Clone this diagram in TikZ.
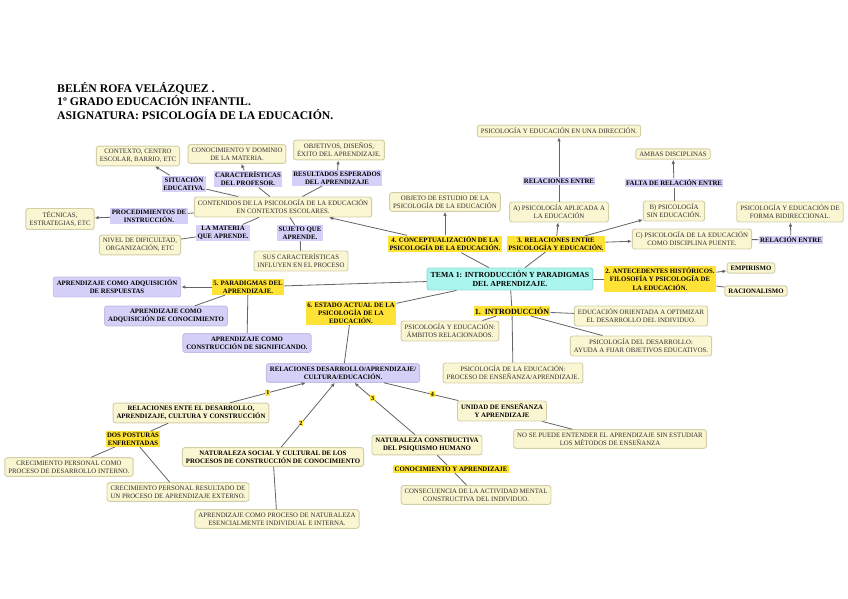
\documentclass[tikz,border=0pt]{standalone}
\usepackage{fontspec}
\setmainfont{Liberation Serif}
\usepackage{xcolor}
\usepackage{tikz}
\usetikzlibrary{arrows.meta}
\definecolor{mapcream}{HTML}{FAF6D2}
\definecolor{mapedge}{HTML}{D2CEA8}
\definecolor{mapyellow}{HTML}{FFE236}
\definecolor{maplila}{HTML}{D4D0F7}
\definecolor{maplilaedge}{HTML}{C2BEE4}
\definecolor{mapcyan}{HTML}{AAF6EF}
\definecolor{mapcyanedge}{HTML}{8EDCD6}
\definecolor{mapline}{HTML}{666666}
\definecolor{maptext}{HTML}{2E2E2E}

\begin{document}
\begin{tikzpicture}[x=0.03cm,y=-0.03cm,
  font=\fontsize{5.8}{7}\selectfont,
  box/.style={rectangle,rounded corners=2pt,draw=mapedge,line width=0.8pt,fill=mapcream,align=center,text=maptext,inner xsep=3pt,inner ysep=2.5pt},
  bbox/.style={box,font=\fontsize{5.8}{7}\selectfont\bfseries,text=black},
  lbox/.style={bbox,fill=maplila,draw=maplilaedge},
  tag/.style={rectangle,fill=mapyellow,align=center,font=\fontsize{5.8}{7}\selectfont\bfseries,inner sep=1.2pt},
  ltag/.style={tag,fill=maplila},
  num/.style={tag,font=\fontsize{5.2}{6}\selectfont\bfseries,inner sep=0.8pt},
  link/.style={draw=mapline,line width=0.7pt},
  arr/.style={link,-{Latex[length=3.5pt,width=3pt]}},
]
\useasboundingbox (0,0) rectangle (848,599);

\node[anchor=west,align=left,inner sep=0pt,font=\fontsize{10}{11.2}\selectfont\bfseries] (title) at (57,101) {BELÉN ROFA VELÁZQUEZ .\\1º GRADO EDUCACIÓN INFANTIL.\\ASIGNATURA: PSICOLOGÍA DE LA EDUCACIÓN.};

\node[box] (cont) at (283,207) {CONTENIDOS DE LA PSICOLOGÍA DE LA EDUCACIÓN\\EN CONTEXTOS ESCOLARES.};
\node[box] (contexto) at (138,156) {CONTEXTO, CENTRO\\ESCOLAR, BARRIO, ETC};
\node[box] (dominio) at (237,154) {CONOCIMIENTO Y DOMINIO\\DE LA MATERIA.};
\node[box] (objetivos) at (339,150) {OBJETIVOS, DISEÑOS,\\ÉXITO DEL APRENDIZAJE.};
\node[box] (tecnicas) at (60,219) {TÉCNICAS,\\ESTRATEGIAS, ETC};
\node[box] (nivel) at (140,245) {NIVEL DE DIFICULTAD,\\ORGANIZACIÓN, ETC};
\node[box] (suscar) at (301,261) {SUS CARACTERÍSTICAS\\INFLUYEN EN EL PROCESO};
\node[ltag] (situacion) at (184,184) {SITUACIÓN\\EDUCATIVA.};
\node[ltag] (profesor) at (248,179) {CARACTERÍSTICAS\\DEL PROFESOR.};
\node[ltag] (resultados) at (337,178) {RESULTADOS ESPERADOS\\DEL APRENDIZAJE};
\node[ltag] (procedim) at (149,216) {PROCEDIMIENTOS DE\\INSTRUCCIÓN.};
\node[ltag] (materia) at (223,233) {LA MATERIA\\QUE APRENDE.};
\node[ltag] (sujeto) at (300,233) {SUJETO QUE\\APRENDE.};

\node[box] (objeto) at (445,202) {OBJETO DE ESTUDIO DE LA\\PSICOLOGÍA DE LA EDUCACIÓN};
\node[box] (unadir) at (559,131) {PSICOLOGÍA Y EDUCACIÓN EN UNA DIRECCIÓN.};
\node[box] (aplicada) at (559,212) {A) PSICOLOGÍA APLICADA A\\LA EDUCACIÓN};
\node[ltag] (relent) at (559,181) {RELACIONES ENTRE};
\node[box] (ambas) at (673,154) {AMBAS DISCIPLINAS};
\node[ltag] (falta) at (674,183) {FALTA DE RELACIÓN ENTRE};
\node[box] (sineduc) at (674,211) {B) PSICOLOGÍA\\SIN EDUCACIÓN.};
\node[box] (puente) at (692,239) {C) PSICOLOGÍA DE LA EDUCACIÓN\\COMO DISCIPLINA PUENTE.};
\node[ltag] (relacion) at (791,240) {RELACIÓN ENTRE};
\node[box] (bidir) at (790,212) {PSICOLOGÍA Y EDUCACIÓN DE\\FORMA BIDIRECCIONAL.};
\node[bbox] (empirismo) at (751,268) {EMPIRISMO};
\node[bbox] (racional) at (756,291) {RACIONALISMO};

\node[bbox,fill=mapcyan,draw=mapcyanedge,font=\fontsize{6.6}{8}\selectfont\bfseries] (tema) at (510,279) {TEMA 1: INTRODUCCIÓN Y PARADIGMAS\\DEL APRENDIZAJE.};
\node[tag] (conc) at (445,244) {4. CONCEPTUALIZACIÓN DE LA\\PSICOLOGÍA DE LA EDUCACIÓN.};
\node[tag] (relac) at (556,244) {3. RELACIONES ENTRE\\PSICOLOGÍA Y EDUCACIÓN.};
\node[tag] (antec) at (660,279) {2. ANTECEDENTES HISTÓRICOS.\\FILOSOFÍA Y PSICOLOGÍA DE\\LA EDUCACIÓN.};
\node[tag,font=\fontsize{6.8}{8}\selectfont\bfseries] (intro) at (512,311) {1.\ \ INTRODUCCIÓN};
\node[tag] (parad) at (248,287) {5. PARADIGMAS DEL\\APRENDIZAJE.};
\node[tag] (estado) at (351,313) {6. ESTADO ACTUAL DE LA\\PSICOLOGÍA DE LA\\EDUCACIÓN.};

\node[lbox] (respuestas) at (117,287) {APRENDIZAJE COMO ADQUISICIÓN\\DE RESPUESTAS};
\node[lbox] (conocim) at (166,316) {APRENDIZAJE COMO\\ADQUISICIÓN DE CONOCIMIENTO};
\node[lbox] (signif) at (247,343) {APRENDIZAJE COMO\\CONSTRUCCIÓN DE SIGNIFICANDO.};

\node[box] (ambitos) at (450,331) {PSICOLOGÍA Y EDUCACIÓN:\\ÁMBITOS RELACIONADOS.};
\node[box] (optimizar) at (641,316) {EDUCACIÓN ORIENTADA A OPTIMIZAR\\EL DESARROLLO DEL INDIVIDUO.};
\node[box] (fijar) at (641,346) {PSICOLOGÍA DEL DESARROLLO:\\AYUDA A FIJAR OBJETIVOS EDUCATIVOS.};
\node[box] (proceso) at (513,373) {PSICOLOGÍA DE LA EDUCACIÓN:\\PROCESO DE ENSEÑANZA/APRENDIZAJE.};

\node[lbox] (relcult) at (343,373) {RELACIONES DESARROLLO/APRENDIZAJE/\\CULTURA/EDUCACIÓN.};
\node[bbox] (entre) at (191,413) {RELACIONES ENTE EL DESARROLLO,\\APRENDIZAJE, CULTURA Y CONSTRUCCIÓN};
\node[tag] (posturas) at (133,439) {DOS POSTURAS\\ENFRENTADAS};
\node[box] (interno) at (69,467) {CRECIMIENTO PERSONAL COMO\\PROCESO DE DESARROLLO INTERNO.};
\node[box] (externo) at (178,492) {CRECIMIENTO PERSONAL RESULTADO DE\\UN PROCESO DE APRENDIZAJE EXTERNO.};
\node[bbox] (social) at (273,457) {NATURALEZA SOCIAL Y CULTURAL DE LOS\\PROCESOS DE CONSTRUCCIÓN DE CONOCIMIENTO};
\node[box] (individual) at (277,519) {APRENDIZAJE COMO PROCESO DE NATURALEZA\\ESENCIALMENTE INDIVIDUAL E INTERNA.};
\node[bbox] (psiquismo) at (427,445) {NATURALEZA CONSTRUCTIVA\\DEL PSIQUISMO HUMANO};
\node[tag] (conapr) at (451,469) {CONOCIMIENTO Y APRENDIZAJE};
\node[box] (consec) at (476,495) {CONSECUENCIA DE LA ACTIVIDAD MENTAL\\CONSTRUCTIVA DEL INDIVIDUO.};
\node[bbox] (unidad) at (502,411) {UNIDAD DE ENSEÑANZA\\Y APRENDIZAJE};
\node[box] (metodos) at (610,439) {NO SE PUEDE ENTENDER EL APRENDIZAJE SIN ESTUDIAR\\LOS MÉTODOS DE ENSEÑANZA};

\draw[link] (tema) -- (conc);
\draw[link] (tema) -- (relac);
\draw[link] (tema) -- (antec);
\draw[link] (tema) -- (intro);
\draw[link] (tema) -- (parad);
\draw[link] (tema) -- (estado);

\draw[arr] (conc) -- (objeto);
\draw[arr] (conc) -- (cont);
\draw[link] (cont) -- (situacion);
\draw[arr] (situacion) -- (contexto);
\draw[link] (cont) -- (profesor);
\draw[arr] (profesor) -- (dominio);
\draw[link] (cont) -- (resultados);
\draw[arr] (resultados) -- (objetivos);
\draw[link] (cont) -- (procedim);
\draw[arr] (procedim) -- (tecnicas);
\draw[link] (cont) -- (materia);
\draw[link] (materia) -- (nivel);
\draw[link] (cont) -- (sujeto);
\draw[link] (sujeto) -- (suscar);

\draw[arr] (relac) -- (aplicada);
\draw[link] (aplicada) -- (relent);
\draw[arr] (relent) -- (unadir);
\draw[arr] (relac) -- (sineduc);
\draw[link] (sineduc) -- (falta);
\draw[arr] (falta) -- (ambas);
\draw[arr] (relac) -- (puente);
\draw[link] (puente) -- (relacion);
\draw[arr] (relacion) -- (bidir);

\draw[arr] (antec) -- (empirismo);
\draw[link] (antec) -- (racional);

\draw[link] (intro) -- (ambitos);
\draw[link] (intro) -- (optimizar);
\draw[link] (intro) -- (fijar);
\draw[link] (intro) -- (proceso);

\draw[arr] (parad) -- (respuestas);
\draw[link] (parad) -- (conocim);
\draw[link] (parad) -- (signif);

\draw[link] (estado) -- (relcult);
\draw[arr] (entre) -- node[num,pos=0.5] {1} (relcult);
\draw[arr] (social) -- node[num,pos=0.37] {2} (relcult);
\draw[arr] (psiquismo) -- node[num,pos=0.7] {3} (relcult);
\draw[link] (unidad) -- node[num,pos=0.35] {4} (relcult);
\draw[link] (entre) -- (posturas);
\draw[link] (posturas) -- (interno);
\draw[link] (posturas) -- (externo);
\draw[link] (social) -- (individual);
\draw[link] (psiquismo) -- (conapr);
\draw[link] (conapr) -- (consec);
\draw[link] (unidad) -- (metodos);
\end{tikzpicture}
\end{document}
